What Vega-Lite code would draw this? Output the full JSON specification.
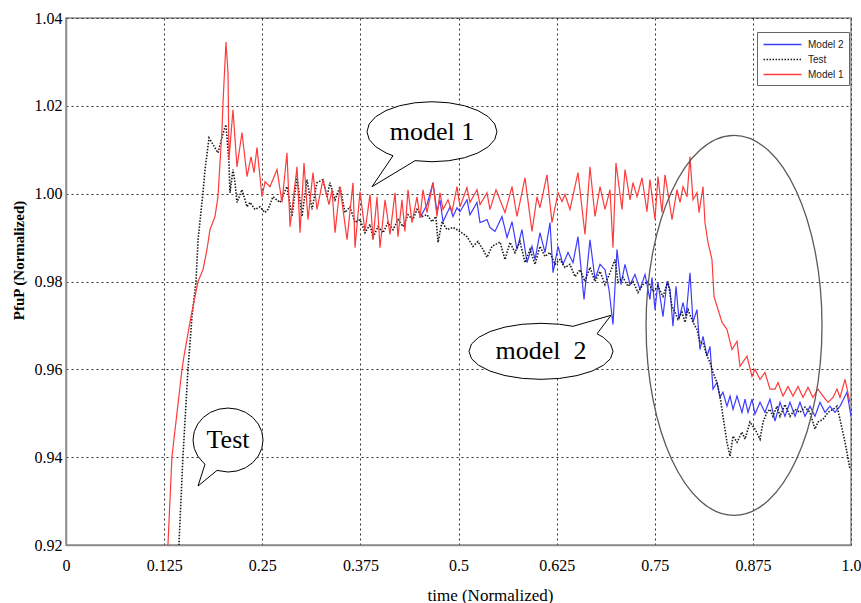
{
"$schema":"https://vega.github.io/schema/vega-lite/v6.json",
"width":785,"height":527,
"autosize":{"type":"none"},
"padding":{"left":66,"top":18,"right":10,"bottom":58},
"background":"white",
"config":{
 "view":{"stroke":"#8c8c8c","strokeWidth":1.5},
 "style":{"guide-label":{"font":"Liberation Serif"}},
 "axis":{"labelFont":"Liberation Serif","labelFontSize":16,"labelColor":"#000","titleFont":"Liberation Serif","titleFontSize":17,"titleFontWeight":"normal","titleColor":"#000","domainColor":"#8c8c8c","domainWidth":1.5,"ticks":false,"gridColor":"#333","gridDash":[2,3],"gridWidth":1,"gridOpacity":1},
 "legend":{"orient":"none","legendX":691,"legendY":14,"fillColor":"white","strokeColor":"#666","padding":5,"labelFont":"Liberation Sans","labelFontSize":10,"labelColor":"#222","symbolType":"M -3 0 L 3 0","symbolSize":160,"symbolOffset":13,"symbolStrokeWidth":1.5,"rowPadding":2,"labelOffset":18}
},
"datasets":{
"curves":[
{"series":"Model 2","time":0.4510,"value":0.9945},{"series":"Model 2","time":0.4599,"value":0.9975},{"series":"Model 2","time":0.4675,"value":1.0025},{"series":"Model 2","time":0.4726,"value":0.9959},{"series":"Model 2","time":0.4764,"value":0.9986},{"series":"Model 2","time":0.4803,"value":0.9936},{"series":"Model 2","time":0.4892,"value":0.9970},{"series":"Model 2","time":0.4930,"value":0.9948},{"series":"Model 2","time":0.4981,"value":0.9968},{"series":"Model 2","time":0.5019,"value":0.9959},{"series":"Model 2","time":0.5108,"value":0.9986},{"series":"Model 2","time":0.5146,"value":0.9952},{"series":"Model 2","time":0.5236,"value":0.9980},{"series":"Model 2","time":0.5274,"value":0.9934},{"series":"Model 2","time":0.5363,"value":0.9941},{"series":"Model 2","time":0.5401,"value":0.9923},{"series":"Model 2","time":0.5465,"value":0.9914},{"series":"Model 2","time":0.5554,"value":0.9948},{"series":"Model 2","time":0.5618,"value":0.9900},{"series":"Model 2","time":0.5682,"value":0.9936},{"series":"Model 2","time":0.5745,"value":0.9873},{"series":"Model 2","time":0.5809,"value":0.9918},{"series":"Model 2","time":0.5873,"value":0.9843},{"series":"Model 2","time":0.5936,"value":0.9880},{"series":"Model 2","time":0.5975,"value":0.9850},{"series":"Model 2","time":0.6038,"value":0.9911},{"series":"Model 2","time":0.6102,"value":0.9866},{"series":"Model 2","time":0.6166,"value":0.9934},{"series":"Model 2","time":0.6204,"value":0.9820},{"series":"Model 2","time":0.6268,"value":0.9880},{"series":"Model 2","time":0.6331,"value":0.9839},{"series":"Model 2","time":0.6395,"value":0.9866},{"series":"Model 2","time":0.6459,"value":0.9843},{"series":"Model 2","time":0.6522,"value":0.9902},{"series":"Model 2","time":0.6599,"value":0.9759},{"series":"Model 2","time":0.6675,"value":0.9895},{"series":"Model 2","time":0.6739,"value":0.9805},{"series":"Model 2","time":0.6803,"value":0.9839},{"series":"Model 2","time":0.6866,"value":0.9827},{"series":"Model 2","time":0.6917,"value":0.9782},{"series":"Model 2","time":0.6968,"value":0.9702},{"series":"Model 2","time":0.7019,"value":0.9873},{"series":"Model 2","time":0.7070,"value":0.9793},{"series":"Model 2","time":0.7121,"value":0.9839},{"series":"Model 2","time":0.7185,"value":0.9793},{"series":"Model 2","time":0.7248,"value":0.9816},{"series":"Model 2","time":0.7312,"value":0.9782},{"series":"Model 2","time":0.7376,"value":0.9816},{"series":"Model 2","time":0.7439,"value":0.9759},{"series":"Model 2","time":0.7465,"value":0.9809},{"series":"Model 2","time":0.7503,"value":0.9736},{"series":"Model 2","time":0.7541,"value":0.9798},{"series":"Model 2","time":0.7605,"value":0.9720},{"series":"Model 2","time":0.7656,"value":0.9800},{"series":"Model 2","time":0.7694,"value":0.9782},{"series":"Model 2","time":0.7732,"value":0.9698},{"series":"Model 2","time":0.7771,"value":0.9789},{"series":"Model 2","time":0.7809,"value":0.9714},{"series":"Model 2","time":0.7860,"value":0.9752},{"series":"Model 2","time":0.7898,"value":0.9720},{"series":"Model 2","time":0.7949,"value":0.9820},{"series":"Model 2","time":0.7987,"value":0.9707},{"series":"Model 2","time":0.8038,"value":0.9736},{"series":"Model 2","time":0.8076,"value":0.9645},{"series":"Model 2","time":0.8115,"value":0.9675},{"series":"Model 2","time":0.8166,"value":0.9630},{"series":"Model 2","time":0.8204,"value":0.9652},{"series":"Model 2","time":0.8242,"value":0.9555},{"series":"Model 2","time":0.8293,"value":0.9570},{"series":"Model 2","time":0.8331,"value":0.9536},{"series":"Model 2","time":0.8369,"value":0.9548},{"series":"Model 2","time":0.8420,"value":0.9516},{"series":"Model 2","time":0.8459,"value":0.9539},{"series":"Model 2","time":0.8497,"value":0.9509},{"series":"Model 2","time":0.8548,"value":0.9539},{"series":"Model 2","time":0.8611,"value":0.9502},{"series":"Model 2","time":0.8650,"value":0.9532},{"series":"Model 2","time":0.8688,"value":0.9502},{"series":"Model 2","time":0.8739,"value":0.9532},{"series":"Model 2","time":0.8777,"value":0.9498},{"series":"Model 2","time":0.8841,"value":0.9525},{"series":"Model 2","time":0.8904,"value":0.9502},{"series":"Model 2","time":0.8968,"value":0.9532},{"series":"Model 2","time":0.9032,"value":0.9482},{"series":"Model 2","time":0.9096,"value":0.9525},{"series":"Model 2","time":0.9159,"value":0.9493},{"series":"Model 2","time":0.9223,"value":0.9525},{"series":"Model 2","time":0.9287,"value":0.9493},{"series":"Model 2","time":0.9350,"value":0.9525},{"series":"Model 2","time":0.9414,"value":0.9493},{"series":"Model 2","time":0.9478,"value":0.9516},{"series":"Model 2","time":0.9541,"value":0.9493},{"series":"Model 2","time":0.9605,"value":0.9525},{"series":"Model 2","time":0.9669,"value":0.9502},{"series":"Model 2","time":0.9732,"value":0.9516},{"series":"Model 2","time":0.9796,"value":0.9502},{"series":"Model 2","time":0.9860,"value":0.9516},{"series":"Model 2","time":0.9949,"value":0.9548},{"series":"Model 2","time":1.0,"value":0.9493},
{"series":"Test","time":0.1427,"value":0.9145},{"series":"Test","time":0.1439,"value":0.9202},{"series":"Test","time":0.1490,"value":0.9402},{"series":"Test","time":0.1554,"value":0.9600},{"series":"Test","time":0.1605,"value":0.9720},{"series":"Test","time":0.1656,"value":0.9800},{"series":"Test","time":0.1682,"value":0.9895},{"series":"Test","time":0.1745,"value":1.0002},{"series":"Test","time":0.1771,"value":1.0055},{"series":"Test","time":0.1822,"value":1.0127},{"series":"Test","time":0.1936,"value":1.0093},{"series":"Test","time":0.2013,"value":1.0145},{"series":"Test","time":0.2038,"value":1.0157},{"series":"Test","time":0.2076,"value":1.0070},{"series":"Test","time":0.2089,"value":1.0002},{"series":"Test","time":0.2127,"value":1.0055},{"series":"Test","time":0.2153,"value":1.0025},{"series":"Test","time":0.2178,"value":0.9980},{"series":"Test","time":0.2242,"value":1.0009},{"series":"Test","time":0.2306,"value":0.9970},{"series":"Test","time":0.2344,"value":0.9980},{"series":"Test","time":0.2408,"value":0.9964},{"series":"Test","time":0.2471,"value":0.9970},{"series":"Test","time":0.2535,"value":0.9957},{"series":"Test","time":0.2573,"value":0.9964},{"series":"Test","time":0.2637,"value":0.9993},{"series":"Test","time":0.2726,"value":0.9980},{"series":"Test","time":0.2815,"value":1.0016},{"series":"Test","time":0.2879,"value":0.9948},{"series":"Test","time":0.2943,"value":1.0039},{"series":"Test","time":0.3006,"value":0.9948},{"series":"Test","time":0.3070,"value":1.0032},{"series":"Test","time":0.3134,"value":0.9964},{"series":"Test","time":0.3197,"value":1.0025},{"series":"Test","time":0.3274,"value":1.0032},{"series":"Test","time":0.3325,"value":0.9993},{"series":"Test","time":0.3363,"value":1.0025},{"series":"Test","time":0.3427,"value":0.9986},{"series":"Test","time":0.3490,"value":1.0016},{"series":"Test","time":0.3554,"value":0.9957},{"series":"Test","time":0.3618,"value":0.9970},{"series":"Test","time":0.3682,"value":0.9934},{"series":"Test","time":0.3745,"value":0.9941},{"series":"Test","time":0.3809,"value":0.9911},{"series":"Test","time":0.3873,"value":0.9930},{"series":"Test","time":0.3911,"value":0.9900},{"series":"Test","time":0.3975,"value":0.9925},{"series":"Test","time":0.4038,"value":0.9911},{"series":"Test","time":0.4102,"value":0.9934},{"series":"Test","time":0.4166,"value":0.9918},{"series":"Test","time":0.4229,"value":0.9941},{"series":"Test","time":0.4293,"value":0.9925},{"series":"Test","time":0.4357,"value":0.9952},{"series":"Test","time":0.4420,"value":0.9941},{"series":"Test","time":0.4471,"value":0.9964},{"series":"Test","time":0.4535,"value":0.9948},{"series":"Test","time":0.4599,"value":0.9952},{"series":"Test","time":0.4662,"value":0.9936},{"series":"Test","time":0.4713,"value":0.9948},{"series":"Test","time":0.4739,"value":0.9889},{"series":"Test","time":0.4790,"value":0.9936},{"series":"Test","time":0.4854,"value":0.9918},{"series":"Test","time":0.4930,"value":0.9923},{"series":"Test","time":0.5019,"value":0.9914},{"series":"Test","time":0.5108,"value":0.9902},{"series":"Test","time":0.5185,"value":0.9880},{"series":"Test","time":0.5248,"value":0.9891},{"series":"Test","time":0.5312,"value":0.9873},{"series":"Test","time":0.5363,"value":0.9855},{"series":"Test","time":0.5427,"value":0.9880},{"series":"Test","time":0.5529,"value":0.9890},{"series":"Test","time":0.5592,"value":0.9850},{"series":"Test","time":0.5656,"value":0.9889},{"series":"Test","time":0.5720,"value":0.9866},{"series":"Test","time":0.5783,"value":0.9891},{"series":"Test","time":0.5847,"value":0.9843},{"series":"Test","time":0.5911,"value":0.9873},{"series":"Test","time":0.5975,"value":0.9839},{"series":"Test","time":0.6038,"value":0.9880},{"series":"Test","time":0.6102,"value":0.9857},{"series":"Test","time":0.6166,"value":0.9866},{"series":"Test","time":0.6229,"value":0.9839},{"series":"Test","time":0.6293,"value":0.9850},{"series":"Test","time":0.6357,"value":0.9832},{"series":"Test","time":0.6420,"value":0.9839},{"series":"Test","time":0.6484,"value":0.9811},{"series":"Test","time":0.6548,"value":0.9827},{"series":"Test","time":0.6611,"value":0.9800},{"series":"Test","time":0.6675,"value":0.9832},{"series":"Test","time":0.6739,"value":0.9800},{"series":"Test","time":0.6803,"value":0.9823},{"series":"Test","time":0.6866,"value":0.9793},{"series":"Test","time":0.6930,"value":0.9820},{"series":"Test","time":0.6994,"value":0.9850},{"series":"Test","time":0.7032,"value":0.9798},{"series":"Test","time":0.7096,"value":0.9809},{"series":"Test","time":0.7159,"value":0.9789},{"series":"Test","time":0.7223,"value":0.9800},{"series":"Test","time":0.7287,"value":0.9775},{"series":"Test","time":0.7350,"value":0.9793},{"series":"Test","time":0.7414,"value":0.9800},{"series":"Test","time":0.7478,"value":0.9777},{"series":"Test","time":0.7541,"value":0.9789},{"series":"Test","time":0.7605,"value":0.9766},{"series":"Test","time":0.7669,"value":0.9800},{"series":"Test","time":0.7720,"value":0.9743},{"series":"Test","time":0.7758,"value":0.9730},{"series":"Test","time":0.7796,"value":0.9714},{"series":"Test","time":0.7847,"value":0.9730},{"series":"Test","time":0.7885,"value":0.9707},{"series":"Test","time":0.7924,"value":0.9736},{"series":"Test","time":0.7987,"value":0.9707},{"series":"Test","time":0.8038,"value":0.9691},{"series":"Test","time":0.8076,"value":0.9661},{"series":"Test","time":0.8115,"value":0.9661},{"series":"Test","time":0.8166,"value":0.9630},{"series":"Test","time":0.8204,"value":0.9616},{"series":"Test","time":0.8242,"value":0.9593},{"series":"Test","time":0.8293,"value":0.9570},{"series":"Test","time":0.8331,"value":0.9539},{"series":"Test","time":0.8369,"value":0.9493},{"series":"Test","time":0.8420,"value":0.9434},{"series":"Test","time":0.8459,"value":0.9402},{"series":"Test","time":0.8497,"value":0.9448},{"series":"Test","time":0.8548,"value":0.9434},{"series":"Test","time":0.8611,"value":0.9457},{"series":"Test","time":0.8650,"value":0.9441},{"series":"Test","time":0.8713,"value":0.9480},{"series":"Test","time":0.8777,"value":0.9464},{"series":"Test","time":0.8841,"value":0.9441},{"series":"Test","time":0.8879,"value":0.9480},{"series":"Test","time":0.8930,"value":0.9502},{"series":"Test","time":0.8968,"value":0.9509},{"series":"Test","time":0.9006,"value":0.9493},{"series":"Test","time":0.9057,"value":0.9516},{"series":"Test","time":0.9096,"value":0.9493},{"series":"Test","time":0.9159,"value":0.9520},{"series":"Test","time":0.9223,"value":0.9493},{"series":"Test","time":0.9287,"value":0.9509},{"series":"Test","time":0.9350,"value":0.9502},{"series":"Test","time":0.9414,"value":0.9514},{"series":"Test","time":0.9478,"value":0.9502},{"series":"Test","time":0.9541,"value":0.9464},{"series":"Test","time":0.9580,"value":0.9480},{"series":"Test","time":0.9643,"value":0.9486},{"series":"Test","time":0.9707,"value":0.9502},{"series":"Test","time":0.9771,"value":0.9509},{"series":"Test","time":0.9822,"value":0.9516},{"series":"Test","time":0.9860,"value":0.9486},{"series":"Test","time":0.9924,"value":0.9434},{"series":"Test","time":0.9987,"value":0.9373},
{"series":"Model 1","time":0.1274,"value":0.9168},{"series":"Model 1","time":0.1299,"value":0.9202},{"series":"Model 1","time":0.1350,"value":0.9402},{"series":"Model 1","time":0.1478,"value":0.9600},{"series":"Model 1","time":0.1503,"value":0.9630},{"series":"Model 1","time":0.1592,"value":0.9720},{"series":"Model 1","time":0.1682,"value":0.9800},{"series":"Model 1","time":0.1745,"value":0.9827},{"series":"Model 1","time":0.1796,"value":0.9873},{"series":"Model 1","time":0.1834,"value":0.9918},{"series":"Model 1","time":0.1898,"value":0.9948},{"series":"Model 1","time":0.1936,"value":0.9993},{"series":"Model 1","time":0.1987,"value":1.0145},{"series":"Model 1","time":0.2000,"value":1.0207},{"series":"Model 1","time":0.2038,"value":1.0345},{"series":"Model 1","time":0.2064,"value":1.0275},{"series":"Model 1","time":0.2076,"value":1.0077},{"series":"Model 1","time":0.2127,"value":1.0191},{"series":"Model 1","time":0.2178,"value":1.0061},{"series":"Model 1","time":0.2242,"value":1.0139},{"series":"Model 1","time":0.2306,"value":1.0039},{"series":"Model 1","time":0.2357,"value":1.0084},{"series":"Model 1","time":0.2395,"value":1.0048},{"series":"Model 1","time":0.2433,"value":1.0105},{"series":"Model 1","time":0.2497,"value":0.9993},{"series":"Model 1","time":0.2535,"value":1.0027},{"series":"Model 1","time":0.2599,"value":1.0016},{"series":"Model 1","time":0.2688,"value":1.0055},{"series":"Model 1","time":0.2752,"value":0.9980},{"series":"Model 1","time":0.2815,"value":1.0093},{"series":"Model 1","time":0.2854,"value":0.9925},{"series":"Model 1","time":0.2943,"value":1.0061},{"series":"Model 1","time":0.2981,"value":0.9911},{"series":"Model 1","time":0.3032,"value":1.0070},{"series":"Model 1","time":0.3083,"value":0.9941},{"series":"Model 1","time":0.3146,"value":1.0048},{"series":"Model 1","time":0.3197,"value":0.9964},{"series":"Model 1","time":0.3274,"value":1.0032},{"series":"Model 1","time":0.3350,"value":0.9975},{"series":"Model 1","time":0.3389,"value":1.0009},{"series":"Model 1","time":0.3427,"value":0.9911},{"series":"Model 1","time":0.3490,"value":1.0016},{"series":"Model 1","time":0.3580,"value":0.9895},{"series":"Model 1","time":0.3656,"value":1.0025},{"series":"Model 1","time":0.3682,"value":0.9877},{"series":"Model 1","time":0.3745,"value":1.0005},{"series":"Model 1","time":0.3809,"value":0.9914},{"series":"Model 1","time":0.3873,"value":0.9998},{"series":"Model 1","time":0.3911,"value":0.9895},{"series":"Model 1","time":0.3962,"value":0.9993},{"series":"Model 1","time":0.4000,"value":0.9877},{"series":"Model 1","time":0.4064,"value":0.9986},{"series":"Model 1","time":0.4127,"value":0.9907},{"series":"Model 1","time":0.4191,"value":1.0002},{"series":"Model 1","time":0.4229,"value":0.9902},{"series":"Model 1","time":0.4280,"value":0.9986},{"series":"Model 1","time":0.4318,"value":0.9914},{"series":"Model 1","time":0.4357,"value":1.0009},{"series":"Model 1","time":0.4408,"value":0.9934},{"series":"Model 1","time":0.4471,"value":0.9993},{"series":"Model 1","time":0.4510,"value":0.9945},{"series":"Model 1","time":0.4548,"value":1.0009},{"series":"Model 1","time":0.4599,"value":0.9957},{"series":"Model 1","time":0.4675,"value":1.0025},{"series":"Model 1","time":0.4726,"value":0.9948},{"series":"Model 1","time":0.4764,"value":1.0002},{"series":"Model 1","time":0.4803,"value":0.9964},{"series":"Model 1","time":0.4866,"value":0.9986},{"series":"Model 1","time":0.4917,"value":0.9959},{"series":"Model 1","time":0.4981,"value":1.0016},{"series":"Model 1","time":0.5019,"value":0.9970},{"series":"Model 1","time":0.5108,"value":1.0014},{"series":"Model 1","time":0.5146,"value":0.9980},{"series":"Model 1","time":0.5236,"value":1.0009},{"series":"Model 1","time":0.5274,"value":0.9975},{"series":"Model 1","time":0.5363,"value":1.0002},{"series":"Model 1","time":0.5401,"value":0.9964},{"series":"Model 1","time":0.5478,"value":1.0009},{"series":"Model 1","time":0.5592,"value":0.9957},{"series":"Model 1","time":0.5682,"value":1.0016},{"series":"Model 1","time":0.5745,"value":0.9948},{"series":"Model 1","time":0.5847,"value":1.0036},{"series":"Model 1","time":0.5936,"value":0.9914},{"series":"Model 1","time":0.6000,"value":0.9993},{"series":"Model 1","time":0.6038,"value":0.9968},{"series":"Model 1","time":0.6127,"value":1.0043},{"series":"Model 1","time":0.6191,"value":0.9934},{"series":"Model 1","time":0.6268,"value":1.0002},{"series":"Model 1","time":0.6318,"value":0.9982},{"series":"Model 1","time":0.6357,"value":0.9998},{"series":"Model 1","time":0.6420,"value":0.9964},{"series":"Model 1","time":0.6522,"value":1.0048},{"series":"Model 1","time":0.6611,"value":0.9907},{"series":"Model 1","time":0.6675,"value":1.0061},{"series":"Model 1","time":0.6739,"value":0.9948},{"series":"Model 1","time":0.6803,"value":1.0016},{"series":"Model 1","time":0.6866,"value":0.9964},{"series":"Model 1","time":0.6930,"value":1.0009},{"series":"Model 1","time":0.6968,"value":0.9877},{"series":"Model 1","time":0.7006,"value":1.0070},{"series":"Model 1","time":0.7083,"value":0.9964},{"series":"Model 1","time":0.7121,"value":1.0055},{"series":"Model 1","time":0.7185,"value":0.9986},{"series":"Model 1","time":0.7223,"value":1.0025},{"series":"Model 1","time":0.7274,"value":0.9993},{"series":"Model 1","time":0.7338,"value":1.0036},{"series":"Model 1","time":0.7401,"value":0.9959},{"series":"Model 1","time":0.7439,"value":1.0032},{"series":"Model 1","time":0.7503,"value":0.9941},{"series":"Model 1","time":0.7541,"value":1.0039},{"series":"Model 1","time":0.7592,"value":0.9957},{"series":"Model 1","time":0.7631,"value":1.0043},{"series":"Model 1","time":0.7720,"value":0.9941},{"series":"Model 1","time":0.7783,"value":1.0009},{"series":"Model 1","time":0.7822,"value":0.9980},{"series":"Model 1","time":0.7860,"value":1.0016},{"series":"Model 1","time":0.7911,"value":0.9993},{"series":"Model 1","time":0.7949,"value":1.0084},{"series":"Model 1","time":0.7987,"value":0.9986},{"series":"Model 1","time":0.8038,"value":1.0002},{"series":"Model 1","time":0.8064,"value":0.9957},{"series":"Model 1","time":0.8115,"value":1.0016},{"series":"Model 1","time":0.8140,"value":0.9934},{"series":"Model 1","time":0.8178,"value":0.9889},{"series":"Model 1","time":0.8229,"value":0.9850},{"series":"Model 1","time":0.8255,"value":0.9766},{"series":"Model 1","time":0.8306,"value":0.9736},{"series":"Model 1","time":0.8357,"value":0.9707},{"series":"Model 1","time":0.8420,"value":0.9691},{"series":"Model 1","time":0.8484,"value":0.9645},{"series":"Model 1","time":0.8548,"value":0.9664},{"series":"Model 1","time":0.8586,"value":0.9607},{"series":"Model 1","time":0.8675,"value":0.9630},{"series":"Model 1","time":0.8739,"value":0.9584},{"series":"Model 1","time":0.8777,"value":0.9600},{"series":"Model 1","time":0.8841,"value":0.9577},{"series":"Model 1","time":0.8904,"value":0.9593},{"series":"Model 1","time":0.8968,"value":0.9555},{"series":"Model 1","time":0.9032,"value":0.9555},{"series":"Model 1","time":0.9070,"value":0.9570},{"series":"Model 1","time":0.9134,"value":0.9539},{"series":"Model 1","time":0.9197,"value":0.9561},{"series":"Model 1","time":0.9261,"value":0.9539},{"series":"Model 1","time":0.9325,"value":0.9561},{"series":"Model 1","time":0.9389,"value":0.9536},{"series":"Model 1","time":0.9452,"value":0.9559},{"series":"Model 1","time":0.9516,"value":0.9536},{"series":"Model 1","time":0.9580,"value":0.9555},{"series":"Model 1","time":0.9643,"value":0.9539},{"series":"Model 1","time":0.9707,"value":0.9525},{"series":"Model 1","time":0.9771,"value":0.9536},{"series":"Model 1","time":0.9822,"value":0.9555},{"series":"Model 1","time":0.9860,"value":0.9536},{"series":"Model 1","time":0.9924,"value":0.9577},{"series":"Model 1","time":0.9987,"value":0.9525}
],
"notes":[
{"label":"model 1","time":0.4662,"value":1.0141},
{"label":"model\u00a0\u00a02","time":0.6051,"value":0.9641},
{"label":"Test","time":0.2064,"value":0.9439},
{"label":"region","time":0.851,"value":0.970}
]
},
"encoding":{
 "x":{"field":"time","type":"quantitative","title":"time (Normalized)","scale":{"domain":[0,1],"nice":false,"zero":false},
  "axis":{"values":[0,0.125,0.25,0.375,0.5,0.625,0.75,0.875,1],"labelExpr":"datum.value == 1 ? '1.0' : format(datum.value, '~g')","labelFont":"Liberation Serif","labelFontSize":16,"labelFlush":false,"labelPadding":12,"titleX":424,"titleY":50,"titleBaseline":"middle","titleAlign":"center","grid":true}},
 "y":{"field":"value","type":"quantitative","title":"PfuP (Normalized)","scale":{"domain":[0.92,1.04],"nice":false,"zero":false},
  "axis":{"values":[0.92,0.94,0.96,0.98,1.0,1.02,1.04],"format":".2f","labelFont":"Liberation Serif","labelFontSize":16,"labelPadding":4,"titleX":-48,"titleY":242,"titleAngle":-90,"titleBaseline":"middle","titleAlign":"center","titleFontWeight":"bold","titleFontSize":15,"grid":true}}
},
"layer":[
 {"data":{"name":"curves"},
  "encoding":{
   "color":{"field":"series","type":"nominal","scale":{"domain":["Model 2","Test","Model 1"],"range":["#3c3cff","#1a1a1a","#ff3a3a"]},"legend":{"title":null}},
   "strokeDash":{"field":"series","type":"nominal","scale":{"domain":["Model 2","Test","Model 1"],"range":[[1,0],[1.5,1.5],[1,0]]},"legend":{"title":null}}
  },
  "layer":[
   {"transform":[{"filter":{"field":"series","equal":"Model 2"}}],"mark":{"type":"line","clip":true,"strokeWidth":1.2}},
   {"transform":[{"filter":{"field":"series","equal":"Test"}}],"mark":{"type":"line","clip":true,"strokeWidth":1.6}},
   {"transform":[{"filter":{"field":"series","equal":"Model 1"}}],"mark":{"type":"line","clip":true,"strokeWidth":1.2}}
  ]},
 {"data":{"name":"notes"},"transform":[{"filter":{"field":"label","equal":"region"}}],
  "mark":{"type":"point","shape":"M 0 -1 C 0.2557 -1 0.463 -0.5523 0.463 0 C 0.463 0.5523 0.2557 1 0 1 C -0.2557 1 -0.463 0.5523 -0.463 0 C -0.463 -0.5523 -0.2557 -1 0 -1 Z","size":144400,"filled":false,"color":"#5a5a5a","strokeWidth":1.3,"opacity":1}},
 {"data":{"name":"notes"},"transform":[{"filter":{"field":"label","equal":"model 1"}}],
  "mark":{"type":"point","shape":"M -0.26 0.445 L 0 0.4615 L 0.259 0.446 L 0.5 0.4 L 0.707 0.326 L 0.866 0.231 L 0.966 0.119 L 1 0 L 0.966 -0.119 L 0.866 -0.231 L 0.707 -0.326 L 0.5 -0.4 L 0.259 -0.446 L 0 -0.4615 L -0.259 -0.446 L -0.5 -0.4 L -0.707 -0.326 L -0.866 -0.231 L -0.966 -0.119 L -1 0 L -0.966 0.119 L -0.866 0.231 L -0.707 0.326 L -0.6 0.369 L -0.923 0.846 Z","size":16900,"filled":true,"fill":"white","stroke":"black","strokeWidth":1,"opacity":1,"fillOpacity":1}},
 {"data":{"name":"notes"},"transform":[{"filter":{"field":"label","equal":"model\u00a0\u00a02"}}],
  "mark":{"type":"point","shape":"M 0.778 -0.244 L 0.866 -0.194 L 0.966 -0.101 L 1 0 L 0.966 0.101 L 0.866 0.194 L 0.707 0.275 L 0.5 0.337 L 0.259 0.376 L 0 0.389 L -0.259 0.376 L -0.5 0.337 L -0.707 0.275 L -0.866 0.194 L -0.966 0.101 L -1 0 L -0.966 -0.101 L -0.866 -0.194 L -0.707 -0.275 L -0.5 -0.337 L -0.259 -0.376 L 0 -0.389 L 0.259 -0.376 L 0.444 -0.347 L 0.972 -0.5 Z","size":20736,"filled":true,"fill":"white","stroke":"black","strokeWidth":1,"opacity":1,"fillOpacity":1}},
 {"data":{"name":"notes"},"transform":[{"filter":{"field":"label","equal":"Test"}}],
  "mark":{"type":"point","shape":"M -0.314 0.868 L 0 0.914 L 0.259 0.883 L 0.5 0.792 L 0.707 0.646 L 0.866 0.457 L 0.966 0.237 L 1 0 L 0.966 -0.237 L 0.866 -0.457 L 0.707 -0.646 L 0.5 -0.792 L 0.259 -0.883 L 0 -0.914 L -0.259 -0.883 L -0.5 -0.792 L -0.707 -0.646 L -0.866 -0.457 L -0.966 -0.237 L -1 0 L -0.966 0.237 L -0.866 0.457 L -0.707 0.646 L -0.657 0.689 L -0.857 1.314 Z","size":4900,"filled":true,"fill":"white","stroke":"black","strokeWidth":1,"opacity":1,"fillOpacity":1}},
 {"data":{"name":"notes"},"transform":[{"filter":"datum.label !== 'region'"}],
  "mark":{"type":"text","font":"Liberation Serif","fontSize":26,"align":"center","baseline":"middle","color":"black"},
  "encoding":{"text":{"field":"label","type":"nominal"}}}
]
}
